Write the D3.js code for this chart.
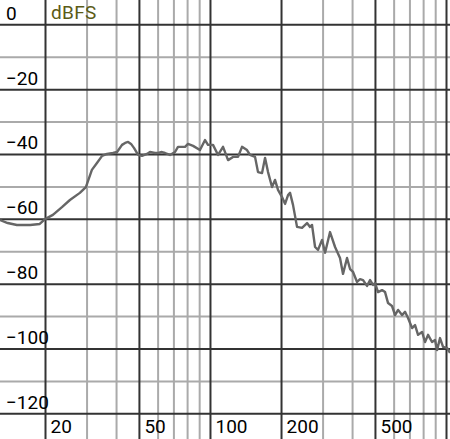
<!DOCTYPE html>
<html>
<head>
<meta charset="utf-8">
<script src="https://cdn.jsdelivr.net/npm/d3@7/dist/d3.min.js"></script>
<style>
  html, body { margin: 0; padding: 0; background: #fff; }
  svg { display: block; font-family: Roboto, "Noto Sans", sans-serif; }
</style>
</head>
<body>
<svg id="chart" width="450" height="439"></svg>
<script>
// ---- data ----
const freqs = [12.9, 13.9, 15.2, 17.3, 19.0, 20.0, 21.6, 23.6, 25.5, 28.1, 29.8, 31.6, 33.2, 34.9, 36.6, 38.8, 40.4, 42.4, 43.7, 45.0,
  46.3, 47.7, 49.6, 51.5, 54.1, 55.7, 58.5, 60.2, 62.6, 64.5, 67.7, 71.1, 73.2, 78.4, 80.7, 84.8, 90.7, 95.3, 98.1, 103.0,
  108.2, 113.6, 119.3, 125.2, 131.5, 136.7, 143.5, 147.8, 155.2, 159.8, 166.2, 171.1, 176.2, 183.2, 188.6, 194.2, 202.0, 208.0, 214.2, 218.4,
  224.8, 233.8, 245.5, 257.8, 265.4, 270.6, 278.8, 287.0, 298.4, 307.4, 322.6, 338.8, 355.6, 366.2, 380.8, 392.2, 403.8, 419.8, 432.2, 445.2,
  462.8, 476.8, 490.8, 500.4, 515.2, 535.8, 551.8, 568.2, 590.6, 608.4, 626.6, 651.2, 670.6, 690.6, 718.2, 739.4, 761.4, 791.6, 815.2, 839.4,
  872.6, 898.6, 916.2, 943.4, 971.6, 1010, 1040];
const levels = [-60.4, -61.3, -61.9, -61.9, -61.6, -60.1, -58.8, -56.4, -54.2, -52.0, -50.2, -44.9, -42.8, -40.6, -40.0, -39.7, -39.4, -37.2, -36.6, -36.3,
  -36.9, -38.2, -40.3, -40.6, -40.0, -39.4, -39.7, -39.7, -39.4, -39.7, -40.3, -39.4, -37.8, -37.8, -36.9, -37.5, -38.8, -35.7, -37.2, -37.2,
  -40.3, -37.8, -41.9, -40.9, -40.9, -37.8, -38.8, -40.3, -40.9, -45.6, -45.9, -41.2, -45.6, -50.2, -48.0, -51.1, -53.3, -55.4, -52.7, -52.0,
  -55.7, -62.5, -62.8, -61.3, -62.5, -61.9, -68.7, -69.6, -66.5, -70.5, -64.1, -68.7, -72.1, -77.0, -72.1, -75.5, -76.4, -79.5, -78.6, -78.9,
  -80.7, -78.9, -80.4, -79.8, -82.6, -82.0, -82.6, -86.0, -86.9, -89.7, -88.1, -89.7, -88.7, -90.6, -93.7, -92.8, -95.8, -94.9, -98.0, -95.8,
  -98.0, -97.4, -100.5, -96.8, -99.5, -99.8, -101.4];

const xMajor = [20, 50, 100, 200, 500, 1000];
const xMinor = [30, 40, 60, 70, 80, 90, 300, 400, 600, 700, 800, 900];
const xLabels = [20, 50, 100, 200, 500];
const yMajor = [0, -20, -40, -60, -80, -100, -120];
const yMinor = [-10, -30, -50, -70, -90, -110];
const unitLabel = "dBFS";

// ---- layout ----
const W = 450, H = 439;
const svg = d3.select("#chart");
const x = d3.scaleLog().domain([20, 1000]).range([45, 446]);
const y = d3.scaleLinear().domain([0, -120]).range([24.3, 413.3]);

function styleGrid(g, color) {
  g.select(".domain").remove();
  g.selectAll(".tick line").attr("stroke", color).attr("stroke-width", 2);
  g.selectAll(".tick text").remove();
}

// minor grids
svg.append("g").call(d3.axisRight(y).tickValues(yMinor).tickSize(W)).call(g => styleGrid(g, "#aaaaaa"));
svg.append("g").call(d3.axisBottom(x).tickValues(xMinor).tickSize(H)).call(g => styleGrid(g, "#aaaaaa"));
// major grids
svg.append("g").call(d3.axisRight(y).tickValues(yMajor).tickSize(W)).call(g => styleGrid(g, "#333333"));
svg.append("g").call(d3.axisBottom(x).tickValues(xMajor).tickSize(H)).call(g => styleGrid(g, "#333333"));

// curve
const line = d3.line().x((d, i) => x(freqs[i])).y(d => y(d)).curve(d3.curveLinear);
svg.append("path").datum(levels)
  .attr("fill", "none").attr("stroke", "#666666").attr("stroke-width", 2.4)
  .attr("stroke-linejoin", "round").attr("d", line);

// y labels
const yl = svg.append("g").call(d3.axisRight(y).tickValues(yMajor).tickSize(0).tickFormat(d3.format("d")));
yl.select(".domain").remove();
yl.selectAll(".tick text")
  .attr("x", 6).attr("dy", "-5px").attr("text-anchor", "start")
  .attr("font-size", 19).attr("font-family", "Roboto, sans-serif").attr("fill", "#000");

// x labels
const xl = svg.append("g").call(d3.axisBottom(x).tickValues(xLabels).tickSize(0).tickFormat(d3.format("d")));
xl.select(".domain").remove();
xl.selectAll(".tick text")
  .attr("x", 5).attr("y", 433).attr("dy", 0).attr("text-anchor", "start")
  .attr("font-size", 19).attr("font-family", "Roboto, sans-serif").attr("fill", "#000");

// unit label
svg.append("text").attr("x", x(20) + 6).attr("y", 19)
  .attr("font-size", 19).attr("letter-spacing", "0.3px").attr("fill", "#5b5b16").text(unitLabel);
</script>
</body>
</html>
